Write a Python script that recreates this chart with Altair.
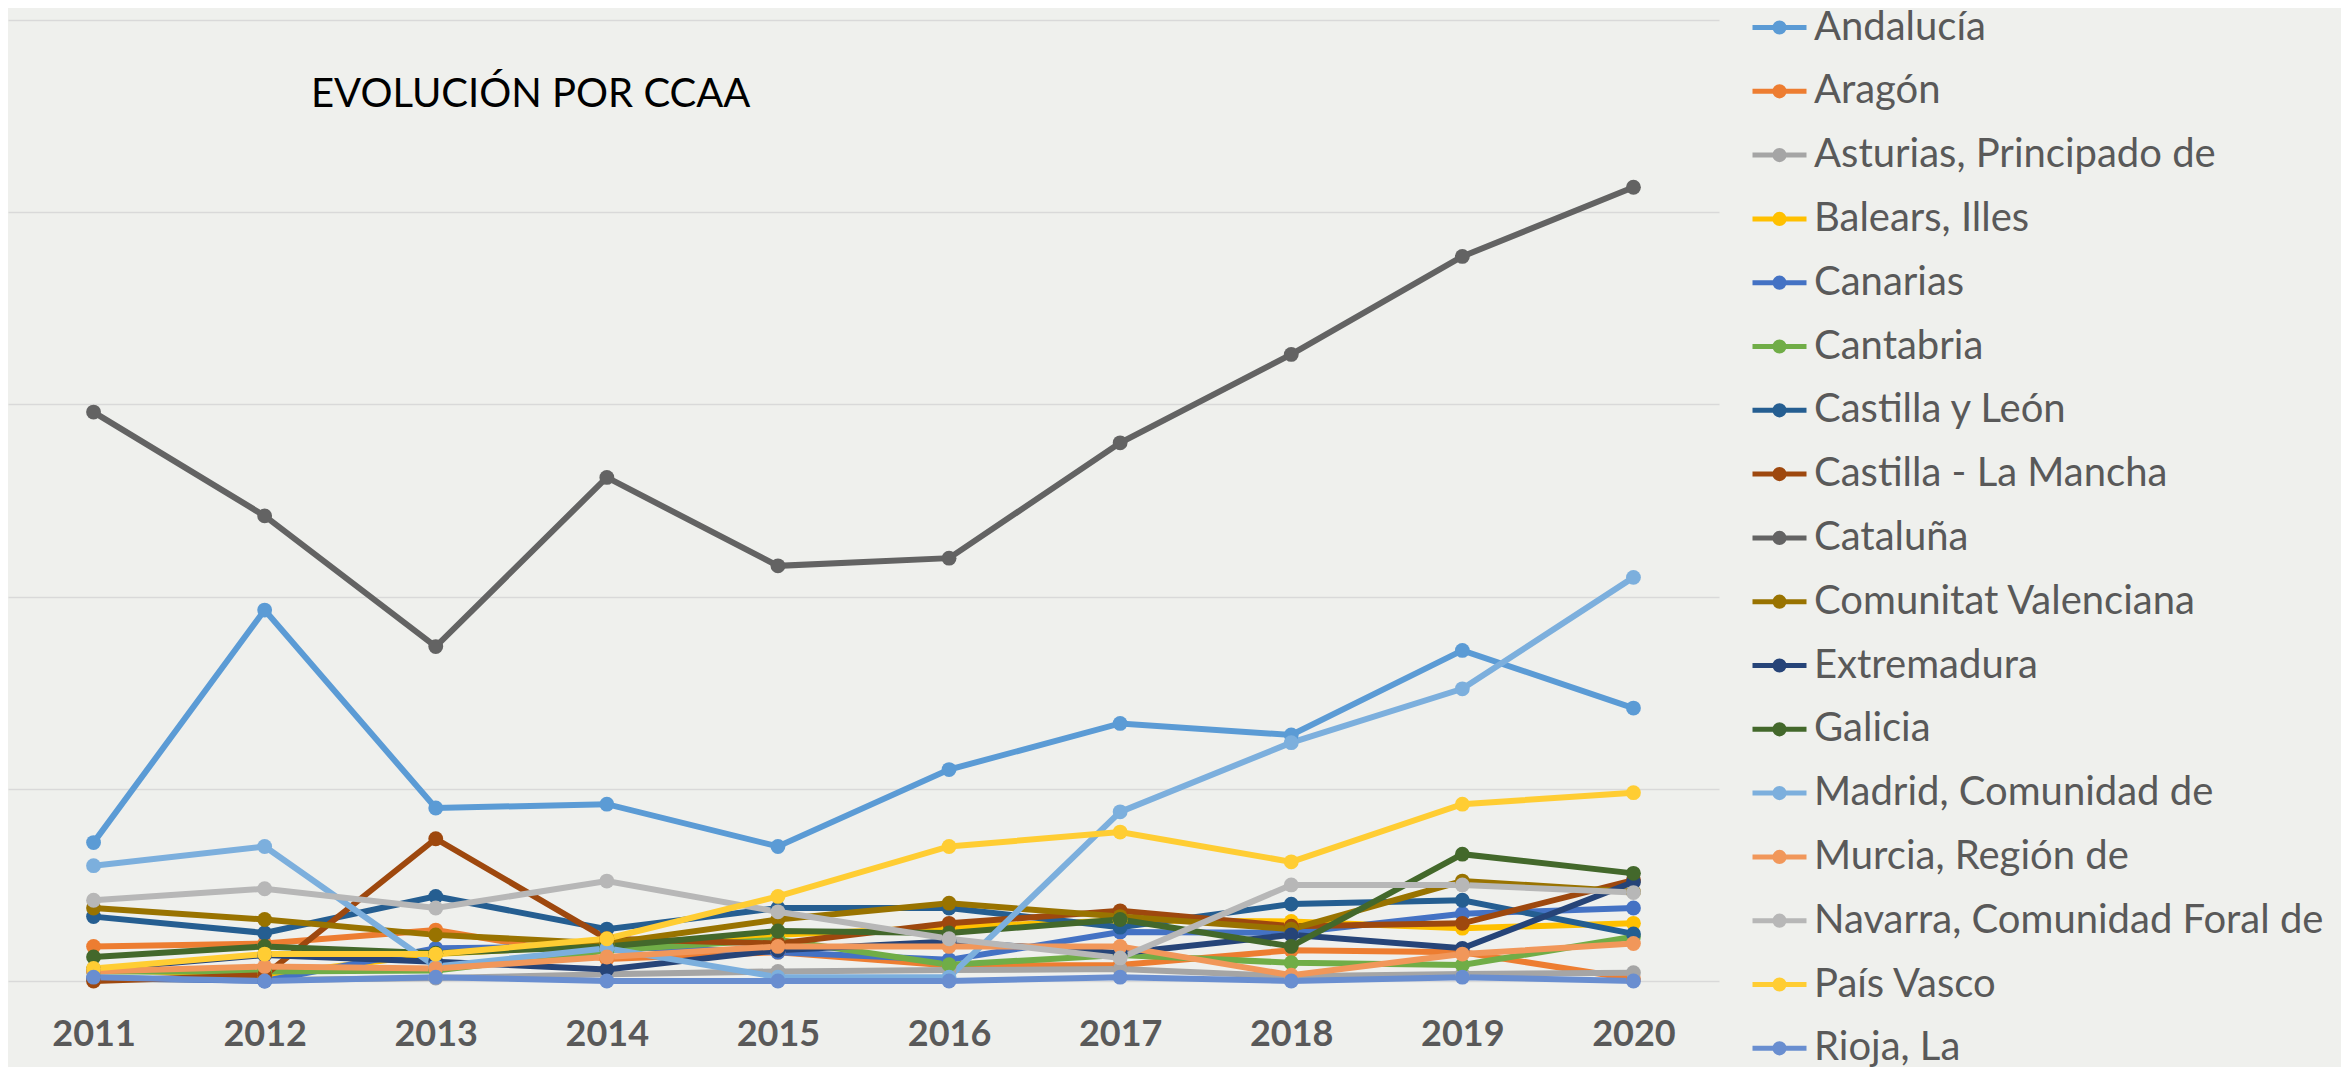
import altair as alt
import pandas as pd

title_text = ["EVOLUCIÓN POR CCAA"]

years = ["2011", "2012", "2013", "2014", "2015", "2016", "2017", "2018", "2019", "2020"]

regions = [
    "Andalucía", "Aragón", "Asturias, Principado de", "Balears, Illes", "Canarias",
    "Cantabria", "Castilla y León", "Castilla - La Mancha", "Cataluña",
    "Comunitat Valenciana", "Extremadura", "Galicia", "Madrid, Comunidad de",
    "Murcia, Región de", "Navarra, Comunidad Foral de", "País Vasco", "Rioja, La",
]

colors = [
    "#5b9bd5", "#ed7d31", "#a5a5a5", "#ffc000", "#4472c4",
    "#70ad47", "#255e91", "#9e480e", "#636363",
    "#997300", "#264478", "#43682b", "#7cafdd",
    "#f1975a", "#b7b7b7", "#ffcd33", "#698ed0",
]

andalucia = [7.2, 19.3, 9.0, 9.2, 7.0, 11.0, 13.4, 12.8, 17.2, 14.2]
aragon = [1.8, 1.95, 2.65, 1.15, 1.5, 0.8, 0.83, 1.6, 1.5, 0.1]
asturias = [0.1, 0.05, 0.15, 0.35, 0.5, 0.57, 0.62, 0.25, 0.36, 0.43]
balears = [0.6, 0.3, 1.4, 1.9, 2.4, 2.8, 3.15, 3.1, 2.75, 3.0]
canarias = [0.15, 0.0, 1.7, 1.8, 1.5, 1.1, 2.55, 2.5, 3.5, 3.8]
cantabria = [0.5, 0.5, 0.55, 1.6, 2.15, 0.85, 1.35, 0.95, 0.83, 2.3]
castilla_leon = [3.35, 2.5, 4.4, 2.7, 3.8, 3.8, 2.8, 4.0, 4.2, 2.45]
castilla_mancha = [0.0, 0.3, 7.4, 2.2, 1.95, 3.0, 3.65, 2.85, 3.0, 5.25]
cataluna = [29.6, 24.2, 17.4, 26.2, 21.6, 22.0, 28.0, 32.6, 37.7, 41.3]
valenciana = [3.8, 3.2, 2.4, 1.95, 3.2, 4.05, 3.35, 2.7, 5.2, 4.65]
extremadura = [0.6, 1.35, 1.0, 0.6, 1.6, 2.05, 1.45, 2.4, 1.7, 5.15]
galicia = [1.25, 1.8, 1.45, 1.8, 2.6, 2.5, 3.2, 1.8, 6.6, 5.6]
madrid = [6.0, 7.0, 0.75, 1.7, 0.2, 0.2, 8.8, 12.4, 15.2, 21.0]
murcia = [0.5, 0.75, 0.65, 1.25, 1.8, 1.8, 1.8, 0.3, 1.4, 1.95]
navarra = [4.2, 4.8, 3.8, 5.2, 3.6, 2.2, 1.2, 5.0, 5.0, 4.6]
pais_vasco = [0.65, 1.4, 1.4, 2.2, 4.4, 7.0, 7.75, 6.2, 9.2, 9.8]
rioja = [0.2, 0.0, 0.2, 0.0, 0.0, 0.0, 0.2, 0.0, 0.2, 0.0]

series = [
    andalucia, aragon, asturias, balears, canarias, cantabria, castilla_leon,
    castilla_mancha, cataluna, valenciana, extremadura, galicia, madrid,
    murcia, navarra, pais_vasco, rioja,
]

grid_values = [0, 10, 20, 30, 40, 50]

rows = []
for i, (reg, vals) in enumerate(zip(regions, series)):
    for yr, v in zip(years, vals):
        rows.append({"CCAA": reg, "Año": yr, "Valor": v, "orden": i})
df = pd.DataFrame(rows)
title_df = pd.DataFrame({"t": title_text})

legend_symbol = (
    "M-1,0L1,0"
    "M-0.17,0A0.17,0.17,0,1,1,0.17,0A0.17,0.17,0,1,1,-0.17,0"
    "M-0.08,0A0.08,0.08,0,1,1,0.08,0A0.08,0.08,0,1,1,-0.08,0"
)

lines = (
    alt.Chart(df)
    .mark_line(
        strokeWidth=6,
        point=alt.OverlayMarkDef(filled=True, size=220, opacity=1),
    )
    .encode(
        x=alt.X(
            "Año:O",
            sort=years,
            scale=alt.Scale(type="point", padding=0.5),
            axis=alt.Axis(
                title=None,
                labelAngle=0,
                ticks=False,
                domain=False,
                grid=False,
                labelFont="Lato",
                labelFontWeight="bold",
                labelFontSize=36,
                labelColor="#595959",
                labelBaseline="middle",
                labelPadding=53,
            ),
        ),
        y=alt.Y(
            "Valor:Q",
            scale=alt.Scale(domain=[0, 50], nice=False, zero=True),
            axis=alt.Axis(
                title=None,
                values=grid_values,
                labels=False,
                ticks=False,
                domain=False,
                grid=True,
                gridColor="#d9d9d9",
                gridWidth=1.5,
            ),
        ),
        color=alt.Color(
            "CCAA:N",
            sort=regions,
            scale=alt.Scale(domain=regions, range=colors),
            legend=alt.Legend(
                title=None,
                orient="none",
                legendX=1742,
                legendY=-22,
                symbolType=legend_symbol,
                symbolSize=2916,
                symbolStrokeWidth=5,
                labelFont="Lato",
                labelFontSize=40,
                labelColor="#595959",
                labelLimit=1000,
                labelOffset=5,
                rowPadding=13.8,
            ),
        ),
        order=alt.Order("orden:Q"),
    )
)

title_mark = (
    alt.Chart(title_df)
    .mark_text(
        font="Lato",
        fontSize=40,
        color="#000000",
        align="left",
        baseline="alphabetic",
    )
    .encode(x=alt.value(303), y=alt.value(87), text="t:N")
)

chart = (
    alt.layer(lines, title_mark)
    .properties(
        width=1711,
        height=961,
        padding={"left": 0, "top": 12, "right": 622, "bottom": 86},
        autosize=alt.AutoSizeParams(type="none"),
    )
    .configure(background="#eff0ed")
    .configure_view(stroke=None)
)

chart.save("out.html", embed_options={"renderer": "svg", "actions": False})
